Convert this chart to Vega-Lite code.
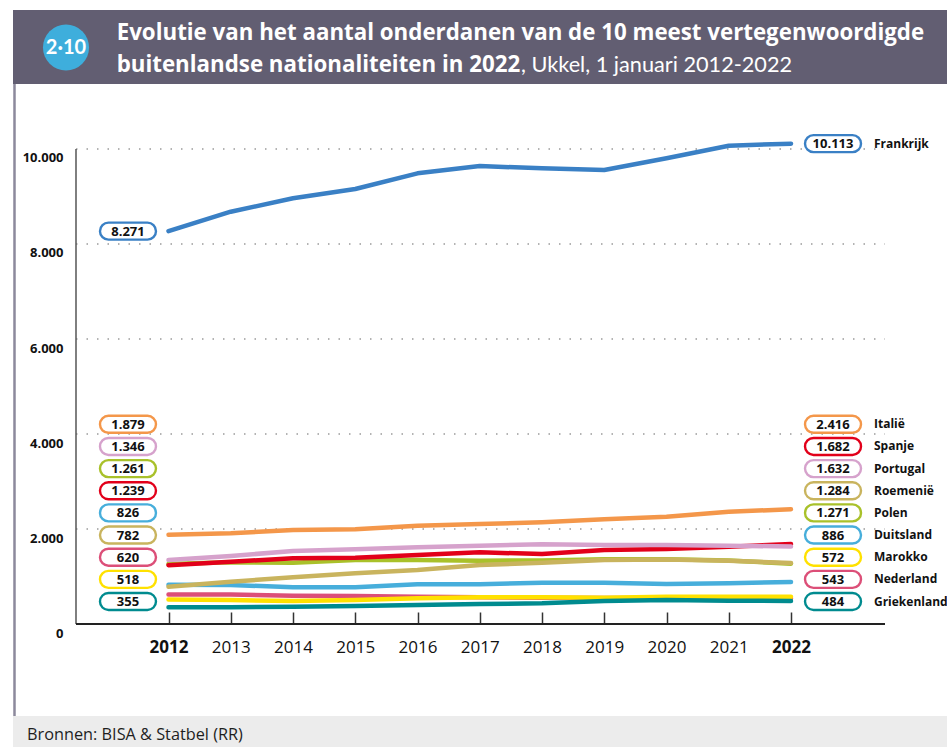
{
  "$schema": "https://vega.github.io/schema/vega-lite/v6.json",
  "padding": {"left": 13, "top": 10, "right": 0, "bottom": 0},
  "background": "#ffffff",
  "bounds": "flush",
  "spacing": 0,
  "config": {
    "view": {"stroke": null},
    "font": "Open Sans",
    "locale": {"number": {"decimal": ",", "thousands": ".", "grouping": [3], "currency": ["€", ""]}}
  },
  "datasets": {
    "header": [
      {"part": "badge", "t": "2·10"},
      {"part": "l1", "t": "Evolutie van het aantal onderdanen van de 10 meest vertegenwoordigde"},
      {"part": "l2b", "t": "buitenlandse nationaliteiten in 2022"},
      {"part": "l2n", "t": ", Ukkel, 1 januari 2012-2022"}
    ],
    "footer": [{"t": "Bronnen: BISA & Statbel (RR)"}],
    "grid": [{"g": 2000}, {"g": 4000}, {"g": 6000}, {"g": 8000}, {"g": 10000}],
    "one": [{"k": 1}],
    "pop": [
      {"country": "Duitsland", "year": 2012, "value": 826},
      {"country": "Duitsland", "year": 2013, "value": 821},
      {"country": "Duitsland", "year": 2014, "value": 772},
      {"country": "Duitsland", "year": 2015, "value": 772},
      {"country": "Duitsland", "year": 2016, "value": 835},
      {"country": "Duitsland", "year": 2017, "value": 835},
      {"country": "Duitsland", "year": 2018, "value": 870},
      {"country": "Duitsland", "year": 2019, "value": 870},
      {"country": "Duitsland", "year": 2020, "value": 842},
      {"country": "Duitsland", "year": 2021, "value": 856},
      {"country": "Duitsland", "year": 2022, "value": 886},
      {"country": "Polen", "year": 2012, "value": 1261},
      {"country": "Polen", "year": 2013, "value": 1300},
      {"country": "Polen", "year": 2014, "value": 1291},
      {"country": "Polen", "year": 2015, "value": 1347},
      {"country": "Polen", "year": 2016, "value": 1347},
      {"country": "Polen", "year": 2017, "value": 1333},
      {"country": "Polen", "year": 2018, "value": 1338},
      {"country": "Polen", "year": 2019, "value": 1361},
      {"country": "Polen", "year": 2020, "value": 1362},
      {"country": "Polen", "year": 2021, "value": 1335},
      {"country": "Polen", "year": 2022, "value": 1271},
      {"country": "Roemenië", "year": 2012, "value": 782},
      {"country": "Roemenië", "year": 2013, "value": 891},
      {"country": "Roemenië", "year": 2014, "value": 982},
      {"country": "Roemenië", "year": 2015, "value": 1067},
      {"country": "Roemenië", "year": 2016, "value": 1137},
      {"country": "Roemenië", "year": 2017, "value": 1242},
      {"country": "Roemenië", "year": 2018, "value": 1290},
      {"country": "Roemenië", "year": 2019, "value": 1345},
      {"country": "Roemenië", "year": 2020, "value": 1360},
      {"country": "Roemenië", "year": 2021, "value": 1330},
      {"country": "Roemenië", "year": 2022, "value": 1284},
      {"country": "Spanje", "year": 2012, "value": 1239},
      {"country": "Spanje", "year": 2013, "value": 1312},
      {"country": "Spanje", "year": 2014, "value": 1382},
      {"country": "Spanje", "year": 2015, "value": 1396},
      {"country": "Spanje", "year": 2016, "value": 1453},
      {"country": "Spanje", "year": 2017, "value": 1509},
      {"country": "Spanje", "year": 2018, "value": 1474},
      {"country": "Spanje", "year": 2019, "value": 1558},
      {"country": "Spanje", "year": 2020, "value": 1579},
      {"country": "Spanje", "year": 2021, "value": 1628},
      {"country": "Spanje", "year": 2022, "value": 1682},
      {"country": "Portugal", "year": 2012, "value": 1346},
      {"country": "Portugal", "year": 2013, "value": 1432},
      {"country": "Portugal", "year": 2014, "value": 1537},
      {"country": "Portugal", "year": 2015, "value": 1572},
      {"country": "Portugal", "year": 2016, "value": 1614},
      {"country": "Portugal", "year": 2017, "value": 1649},
      {"country": "Portugal", "year": 2018, "value": 1677},
      {"country": "Portugal", "year": 2019, "value": 1663},
      {"country": "Portugal", "year": 2020, "value": 1663},
      {"country": "Portugal", "year": 2021, "value": 1649},
      {"country": "Portugal", "year": 2022, "value": 1632},
      {"country": "Nederland", "year": 2012, "value": 620},
      {"country": "Nederland", "year": 2013, "value": 620},
      {"country": "Nederland", "year": 2014, "value": 596},
      {"country": "Nederland", "year": 2015, "value": 589},
      {"country": "Nederland", "year": 2016, "value": 575},
      {"country": "Nederland", "year": 2017, "value": 561},
      {"country": "Nederland", "year": 2018, "value": 555},
      {"country": "Nederland", "year": 2019, "value": 550},
      {"country": "Nederland", "year": 2020, "value": 548},
      {"country": "Nederland", "year": 2021, "value": 545},
      {"country": "Nederland", "year": 2022, "value": 543},
      {"country": "Marokko", "year": 2012, "value": 518},
      {"country": "Marokko", "year": 2013, "value": 505},
      {"country": "Marokko", "year": 2014, "value": 484},
      {"country": "Marokko", "year": 2015, "value": 505},
      {"country": "Marokko", "year": 2016, "value": 540},
      {"country": "Marokko", "year": 2017, "value": 561},
      {"country": "Marokko", "year": 2018, "value": 561},
      {"country": "Marokko", "year": 2019, "value": 554},
      {"country": "Marokko", "year": 2020, "value": 575},
      {"country": "Marokko", "year": 2021, "value": 575},
      {"country": "Marokko", "year": 2022, "value": 572},
      {"country": "Griekenland", "year": 2012, "value": 355},
      {"country": "Griekenland", "year": 2013, "value": 351},
      {"country": "Griekenland", "year": 2014, "value": 365},
      {"country": "Griekenland", "year": 2015, "value": 379},
      {"country": "Griekenland", "year": 2016, "value": 400},
      {"country": "Griekenland", "year": 2017, "value": 421},
      {"country": "Griekenland", "year": 2018, "value": 435},
      {"country": "Griekenland", "year": 2019, "value": 484},
      {"country": "Griekenland", "year": 2020, "value": 505},
      {"country": "Griekenland", "year": 2021, "value": 491},
      {"country": "Griekenland", "year": 2022, "value": 484},
      {"country": "Italië", "year": 2012, "value": 1879},
      {"country": "Italië", "year": 2013, "value": 1909},
      {"country": "Italië", "year": 2014, "value": 1979},
      {"country": "Italië", "year": 2015, "value": 1994},
      {"country": "Italië", "year": 2016, "value": 2069},
      {"country": "Italië", "year": 2017, "value": 2105},
      {"country": "Italië", "year": 2018, "value": 2141},
      {"country": "Italië", "year": 2019, "value": 2204},
      {"country": "Italië", "year": 2020, "value": 2259},
      {"country": "Italië", "year": 2021, "value": 2364},
      {"country": "Italië", "year": 2022, "value": 2416},
      {"country": "Frankrijk", "year": 2012, "value": 8271},
      {"country": "Frankrijk", "year": 2013, "value": 8680},
      {"country": "Frankrijk", "year": 2014, "value": 8962},
      {"country": "Frankrijk", "year": 2015, "value": 9158},
      {"country": "Frankrijk", "year": 2016, "value": 9488},
      {"country": "Frankrijk", "year": 2017, "value": 9642},
      {"country": "Frankrijk", "year": 2018, "value": 9593},
      {"country": "Frankrijk", "year": 2019, "value": 9558},
      {"country": "Frankrijk", "year": 2020, "value": 9804},
      {"country": "Frankrijk", "year": 2021, "value": 10070},
      {"country": "Frankrijk", "year": 2022, "value": 10113}
    ]
  },
  "vconcat": [
    {
      "width": 934,
      "height": 74,
      "view": {"fill": "#625e72", "stroke": null},
      "data": {"name": "header"},
      "layer": [
        {
          "transform": [{"filter": "datum.part === 'badge'"}],
          "mark": {"type": "circle", "size": 2124, "color": "#3eaedc", "opacity": 1},
          "encoding": {
            "x": {"datum": 53, "type": "quantitative", "scale": {"domain": [0, 934], "nice": false, "zero": false}, "axis": null},
            "y": {"datum": 37.5, "type": "quantitative", "scale": {"domain": [0, 74], "reverse": true, "nice": false, "zero": false}, "axis": null}
          }
        },
        {
          "transform": [{"filter": "datum.part === 'badge'"}],
          "mark": {"type": "text", "font": "Lato", "fontWeight": "bold", "fontSize": 20, "color": "#ffffff", "align": "center", "baseline": "middle"},
          "encoding": {
            "x": {"datum": 53, "type": "quantitative"},
            "y": {"datum": 38, "type": "quantitative"},
            "text": {"field": "t"}
          }
        },
        {
          "transform": [{"filter": "datum.part === 'l1'"}],
          "mark": {"type": "text", "font": "Open Sans", "fontWeight": "bold", "fontSize": 22.3, "color": "#ffffff", "align": "left", "baseline": "alphabetic"},
          "encoding": {
            "x": {"datum": 103.7, "type": "quantitative"},
            "y": {"datum": 29.5, "type": "quantitative"},
            "text": {"field": "t"}
          }
        },
        {
          "transform": [{"filter": "datum.part === 'l2b'"}],
          "mark": {"type": "text", "font": "Open Sans", "fontWeight": "bold", "fontSize": 22.3, "color": "#ffffff", "align": "left", "baseline": "alphabetic"},
          "encoding": {
            "x": {"datum": 103.7, "type": "quantitative"},
            "y": {"datum": 61.5, "type": "quantitative"},
            "text": {"field": "t"}
          }
        },
        {
          "transform": [{"filter": "datum.part === 'l2n'"}],
          "mark": {"type": "text", "font": "Lato", "fontWeight": "normal", "fontSize": 21.7, "color": "#ffffff", "align": "left", "baseline": "alphabetic"},
          "encoding": {
            "x": {"datum": 508, "type": "quantitative"},
            "y": {"datum": 61.5, "type": "quantitative"},
            "text": {"field": "t"}
          }
        }
      ]
    },
    {
      "width": 934,
      "height": 632,
      "layer": [
        {
          "layer": [
            {
              "data": {"name": "one"},
              "mark": {"type": "rule", "color": "#8c899c", "strokeWidth": 2.5},
              "encoding": {
                "x": {"datum": 2009.526, "type": "quantitative", "scale": {"domain": [2009.502, 2024.506], "nice": false, "zero": false}},
                "y": {"datum": -1936.8, "type": "quantitative", "scale": {"domain": [-1936.8, 11368.4], "nice": false, "zero": false}},
                "y2": {"datum": 11368.4}
              }
            },
            {
              "data": {"name": "grid"},
              "mark": {"type": "rule", "color": "#9a9a9a", "strokeWidth": 1.5, "strokeDash": [1.5, 9]},
              "encoding": {
                "x": {"datum": 2010.514, "type": "quantitative"},
                "x2": {"datum": 2023.51},
                "y": {"field": "g", "type": "quantitative"}
              }
            },
            {
              "data": {"name": "one"},
              "mark": {"type": "rule", "color": "#555555", "strokeWidth": 1.5},
              "encoding": {
                "x": {"datum": 2010.514, "type": "quantitative"},
                "y": {"datum": 0, "type": "quantitative"},
                "y2": {"datum": 10000}
              }
            },
            {
              "data": {"name": "one"},
              "mark": {"type": "rule", "color": "#222222", "strokeWidth": 2},
              "encoding": {
                "x": {"datum": 2010.514, "type": "quantitative"},
                "x2": {"datum": 2023.51},
                "y": {"datum": 0, "type": "quantitative"}
              }
            },
            {
              "data": {"name": "pop"},
              "mark": {"type": "line", "strokeWidth": 4.5, "strokeCap": "round", "strokeJoin": "round"},
              "encoding": {
                "x": {
                  "field": "year", "type": "quantitative",
                  "axis": {
                    "values": [2012, 2013, 2014, 2015, 2016, 2017, 2018, 2019, 2020, 2021, 2022],
                    "format": "d", "offset": -92, "domain": false, "grid": false,
                    "ticks": true, "tickSize": -12, "tickColor": "#333333", "tickWidth": 1.5,
                    "labelPadding": 35, "labelBaseline": "middle", "labelFontSize": 17,
                    "labelFontWeight": {"condition": {"test": "datum.value === 2012 || datum.value === 2022", "value": "bold"}, "value": "normal"},
                    "labelColor": "#111111", "labelFlush": false, "labelOverlap": false, "title": null
                  }
                },
                "y": {
                  "field": "value", "type": "quantitative",
                  "axis": {
                    "values": [0, 2000, 4000, 6000, 8000, 10000],
                    "format": ",d", "offset": -63, "domain": false, "ticks": false, "grid": false,
                    "labelPadding": 13, "labelOffset": 9, "labelFontWeight": "bold", "labelFontSize": 13,
                    "labelColor": "#111111", "labelFlush": false, "title": null
                  }
                },
                "color": {
                  "field": "country", "type": "nominal", "legend": null,
                  "scale": {
                    "domain": ["Frankrijk", "Italië", "Spanje", "Portugal", "Roemenië", "Polen", "Duitsland", "Marokko", "Nederland", "Griekenland"],
                    "range": ["#3a80c5", "#f4974a", "#e2001a", "#d6a2cc", "#c9b45e", "#a9c12a", "#47aedb", "#ffe100", "#dc4f78", "#008b8f"]
                  }
                }
              }
            },
            {
              "data": {"name": "pop"},
              "transform": [{"filter": "datum.country === 'Frankrijk' && datum.year === 2012"}],
              "mark": {"type": "point", "shape": "M-0.6964,-0.3036L0.6964,-0.3036A0.3036,0.3036,0,0,1,0.6964,0.3036L-0.6964,0.3036A0.3036,0.3036,0,0,1,-0.6964,-0.3036Z", "size": 3136, "filled": false, "fill": "#ffffff", "fillOpacity": 1, "strokeWidth": 2.4, "opacity": 1},
              "encoding": {
                "x": {"datum": 2011.349, "type": "quantitative"},
                "y": {"field": "value", "type": "quantitative"},
                "stroke": {"field": "country", "type": "nominal", "legend": null,
                  "scale": {
                    "domain": ["Frankrijk", "Italië", "Spanje", "Portugal", "Roemenië", "Polen", "Duitsland", "Marokko", "Nederland", "Griekenland"],
                    "range": ["#3a80c5", "#f4974a", "#e2001a", "#d6a2cc", "#c9b45e", "#a9c12a", "#47aedb", "#ffe100", "#dc4f78", "#008b8f"]
                  }}
              }
            },
            {
              "data": {"name": "pop"},
              "transform": [{"filter": "datum.country === 'Frankrijk' && datum.year === 2012"}],
              "mark": {"type": "text", "fontWeight": "bold", "fontSize": 13, "color": "#111111", "align": "center", "baseline": "middle", "dy": 0.5},
              "encoding": {
                "x": {"datum": 2011.349, "type": "quantitative"},
                "y": {"field": "value", "type": "quantitative"},
                "text": {"field": "value", "type": "quantitative", "format": ",d"}
              }
            },
            {
              "data": {"name": "pop"},
              "transform": [{"filter": "datum.country === 'Frankrijk' && datum.year === 2022"}],
              "mark": {"type": "point", "shape": "M-0.6964,-0.3036L0.6964,-0.3036A0.3036,0.3036,0,0,1,0.6964,0.3036L-0.6964,0.3036A0.3036,0.3036,0,0,1,-0.6964,-0.3036Z", "size": 3136, "filled": false, "fill": "#ffffff", "fillOpacity": 1, "strokeWidth": 2.4, "opacity": 1},
              "encoding": {
                "x": {"datum": 2022.675, "type": "quantitative"},
                "y": {"field": "value", "type": "quantitative"},
                "stroke": {"field": "country", "type": "nominal", "legend": null}
              }
            },
            {
              "data": {"name": "pop"},
              "transform": [{"filter": "datum.country === 'Frankrijk' && datum.year === 2022"}],
              "mark": {"type": "text", "fontWeight": "bold", "fontSize": 13, "color": "#111111", "align": "center", "baseline": "middle", "dy": 0.5},
              "encoding": {
                "x": {"datum": 2022.675, "type": "quantitative"},
                "y": {"field": "value", "type": "quantitative"},
                "text": {"field": "value", "type": "quantitative", "format": ",d"}
              }
            },
            {
              "data": {"name": "pop"},
              "transform": [{"filter": "datum.country === 'Frankrijk' && datum.year === 2022"}],
              "mark": {"type": "text", "fontWeight": "bold", "fontSize": 12, "color": "#111111", "align": "left", "baseline": "middle"},
              "encoding": {
                "x": {"datum": 2023.333, "type": "quantitative"},
                "y": {"field": "value", "type": "quantitative"},
                "text": {"field": "country"}
              }
            }
          ]
        },
        {
          "data": {"name": "pop"},
          "transform": [
            {"filter": "datum.year === 2012 || datum.year === 2022"},
            {"window": [{"op": "row_number", "as": "rank"}], "groupby": ["year"], "sort": [{"field": "value", "order": "descending"}]},
            {"filter": "datum.country !== 'Frankrijk'"}
          ],
          "layer": [
            {
              "transform": [{"filter": "datum.year === 2012"}],
              "mark": {"type": "point", "shape": "M-0.6964,-0.3036L0.6964,-0.3036A0.3036,0.3036,0,0,1,0.6964,0.3036L-0.6964,0.3036A0.3036,0.3036,0,0,1,-0.6964,-0.3036Z", "size": 3136, "filled": false, "fill": "#ffffff", "fillOpacity": 1, "strokeWidth": 2.4, "opacity": 1},
              "encoding": {
                "x": {"datum": 2011.349, "type": "quantitative"},
                "y": {"field": "rank", "type": "quantitative", "scale": {"domain": [2, 10], "range": [340.3, 517.5], "nice": false, "zero": false}, "axis": null},
                "stroke": {"field": "country", "type": "nominal", "legend": null}
              }
            },
            {
              "transform": [{"filter": "datum.year === 2012"}],
              "mark": {"type": "text", "fontWeight": "bold", "fontSize": 13, "color": "#111111", "align": "center", "baseline": "middle", "dy": 0.5},
              "encoding": {
                "x": {"datum": 2011.349, "type": "quantitative"},
                "y": {"field": "rank", "type": "quantitative", "axis": null},
                "text": {"field": "value", "type": "quantitative", "format": ",d"}
              }
            },
            {
              "transform": [{"filter": "datum.year === 2022"}],
              "mark": {"type": "point", "shape": "M-0.6964,-0.3036L0.6964,-0.3036A0.3036,0.3036,0,0,1,0.6964,0.3036L-0.6964,0.3036A0.3036,0.3036,0,0,1,-0.6964,-0.3036Z", "size": 3136, "filled": false, "fill": "#ffffff", "fillOpacity": 1, "strokeWidth": 2.4, "opacity": 1},
              "encoding": {
                "x": {"datum": 2022.675, "type": "quantitative"},
                "y": {"field": "rank", "type": "quantitative", "axis": null},
                "stroke": {"field": "country", "type": "nominal", "legend": null}
              }
            },
            {
              "transform": [{"filter": "datum.year === 2022"}],
              "mark": {"type": "text", "fontWeight": "bold", "fontSize": 13, "color": "#111111", "align": "center", "baseline": "middle", "dy": 0.5},
              "encoding": {
                "x": {"datum": 2022.675, "type": "quantitative"},
                "y": {"field": "rank", "type": "quantitative", "axis": null},
                "text": {"field": "value", "type": "quantitative", "format": ",d"}
              }
            },
            {
              "transform": [{"filter": "datum.year === 2022"}],
              "mark": {"type": "text", "fontWeight": "bold", "fontSize": 12, "color": "#111111", "align": "left", "baseline": "middle"},
              "encoding": {
                "x": {"datum": 2023.333, "type": "quantitative"},
                "y": {"field": "rank", "type": "quantitative", "axis": null},
                "text": {"field": "country"}
              }
            }
          ]
        }
      ],
      "resolve": {"scale": {"y": "independent"}}
    },
    {
      "width": 934,
      "height": 31,
      "view": {"fill": "#ececec", "stroke": null},
      "data": {"name": "footer"},
      "mark": {"type": "text", "fontSize": 16.3, "color": "#1e1e1e", "align": "left", "baseline": "alphabetic"},
      "encoding": {
        "x": {"datum": 14, "type": "quantitative", "scale": {"domain": [0, 934], "nice": false, "zero": false}, "axis": null},
        "y": {"datum": 23.5, "type": "quantitative", "scale": {"domain": [0, 31], "reverse": true, "nice": false, "zero": false}, "axis": null},
        "text": {"field": "t"}
      }
    }
  ]
}
